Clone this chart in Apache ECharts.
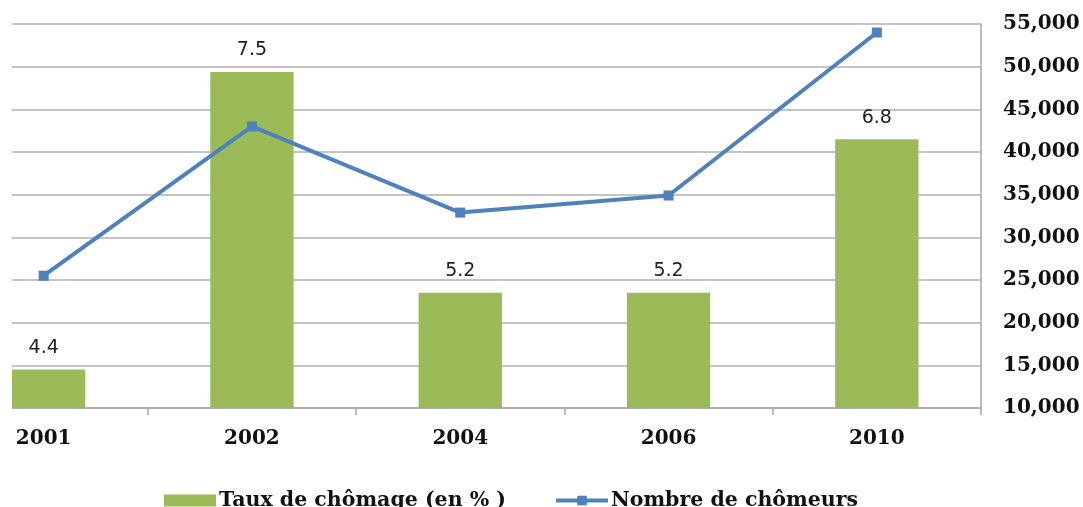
<!DOCTYPE html>
<html>
<head>
<meta charset="utf-8">
<script src="https://cdn.jsdelivr.net/npm/echarts@6/dist/echarts.min.js"></script>
<style>
html,body{margin:0;padding:0;background:#fff;overflow:hidden;width:1083px;height:507px;}
#chart{width:1155px;height:507px;margin-left:-72px;}
</style>
</head>
<body>
<div id="chart"></div>
<script>
const categories = ['2001', '2002', '2004', '2006', '2010'];
const tauxChomage = [4.4, 7.5, 5.2, 5.2, 6.8];
const nombreChomeurs = [25500, 43000, 32900, 34900, 54000];
const seriesNames = ['Taux de chômage (en % )', 'Nombre de chômeurs'];

const OFFSET = 72; // chart canvas starts 72px left of the page
const chart = echarts.init(document.getElementById('chart'));
const serifBold = { fontFamily: 'DejaVu Serif', fontWeight: 'bold', color: '#111' };

chart.setOption({
  animation: false,
  backgroundColor: '#fff',
  grid: { left: 11.5, right: 102, top: 24, bottom: 99, containLabel: false },
  legend: {
    left: 159 + OFFSET, top: 485,
    itemWidth: 52, itemHeight: 12, itemGap: 48,
    lineStyle: { width: 4 },
    textStyle: Object.assign({ fontSize: 20.5, padding: [0, 0, 0, -2] }, serifBold),
    data: [
      { name: seriesNames[0], icon: 'rect' },
      { name: seriesNames[1] }
    ]
  },
  xAxis: {
    type: 'category',
    data: categories,
    axisLine: { lineStyle: { color: '#a6a6a6', width: 1.5 } },
    axisTick: { show: true, length: 7, lineStyle: { color: '#a6a6a6', width: 1.5 } },
    axisLabel: Object.assign({ fontSize: 20, margin: 21 }, serifBold)
  },
  yAxis: [
    { type: 'value', min: 4, max: 8, show: false, splitLine: { show: false } },
    {
      type: 'value', position: 'right', min: 10000, max: 55000, interval: 5000,
      axisLine: { show: true, lineStyle: { color: '#a6a6a6', width: 1.5 } },
      axisTick: { show: false },
      splitLine: { show: true, lineStyle: { color: '#b0b0b0', width: 1.5 } },
      axisLabel: Object.assign({
        fontSize: 20, margin: 22,
        formatter: v => v.toLocaleString('en-US')
      }, serifBold)
    }
  ],
  graphic: [
    { type: 'rect', left: 0, top: 0, z: 100, shape: { width: OFFSET + 12, height: 420 }, style: { fill: '#fff' } }
  ],
  series: [
    {
      name: seriesNames[0], type: 'bar', yAxisIndex: 0, data: tauxChomage,
      barWidth: '40%',
      itemStyle: { color: '#9BBB59' },
      label: { show: true, position: 'top', distance: 12, fontSize: 19, fontFamily: 'DejaVu Sans', color: '#222' }
    },
    {
      name: seriesNames[1], type: 'line', yAxisIndex: 1, data: nombreChomeurs,
      symbol: 'rect', symbolSize: 10, showAllSymbol: true,
      lineStyle: { color: '#4F81BD', width: 4 },
      itemStyle: { color: '#4F81BD' },
      z: 5
    }
  ]
});
</script>
</body>
</html>
